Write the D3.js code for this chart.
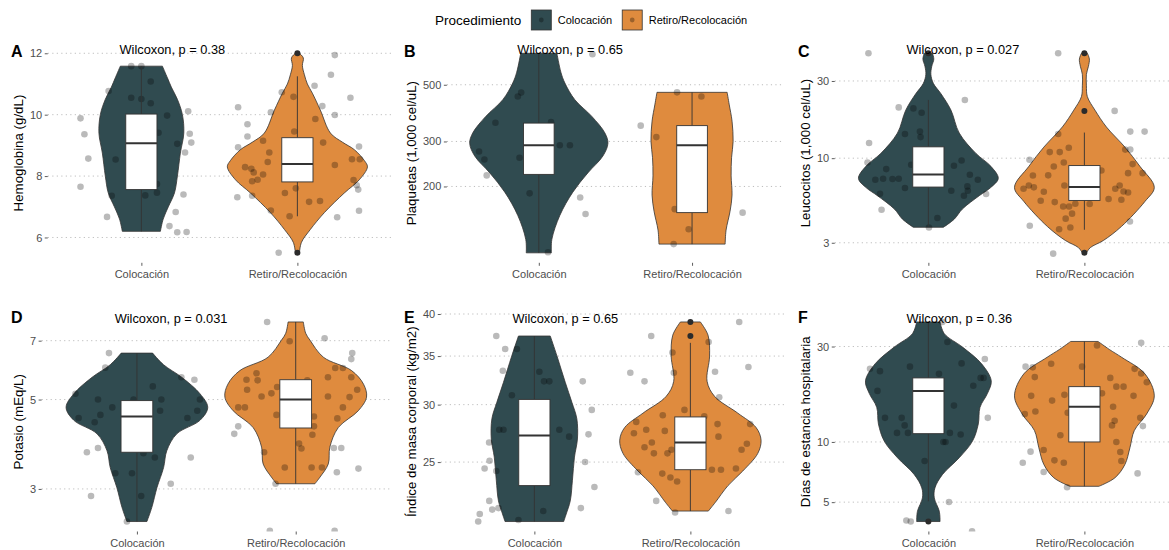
<!DOCTYPE html>
<html>
<head>
<meta charset="utf-8">
<script src="https://cdn.jsdelivr.net/npm/d3@7/dist/d3.min.js"></script>
<style>
  body { margin: 0; background: #fff; }
  text { font-family: "Liberation Sans", Arial, sans-serif; }
</style>
</head>
<body>
<svg id="chart" width="1169" height="550"></svg>
<script>
var categories = ["Colocación", "Retiro/Recolocación"];
var fills = ["#304B50", "#DF8B3E"];
var legendTitle = "Procedimiento";

// violin outlines: [value, half width in category units], boxes: [lower, q1, median, q3, upper]
// points: [horizontal jitter in category units, value]

// A - hemoglobina
var hbViolin = [
  [[11.58,.135],[11.2,.167],[10.9,.192],[10.5,.231],[10.0,.263],[9.4,.272],[8.75,.25],[8.0,.231],[7.45,.212],[7.0,.173],[6.6,.14],[6.2,.122]],
  [[12.0,.013],[11.85,.038],[11.6,.032],[11.3,.045],[11.0,.064],[10.7,.096],[10.15,.147],[9.4,.212],[9.1,.29],[8.86,.365],[8.5,.43],[8.3,.449],[7.88,.397],[7.45,.301],[6.81,.173],[6.26,.083],[5.84,.026],[5.5,.013]]
];
var hbBox = [[6.2,7.56,9.07,10.02,11.58],[6.69,7.81,8.39,9.25,11.25]];
var hbOutliers = [[],[12.0,5.5]];
var hbPoints = [
  [[-0.39,9.88],[-0.365,9.36],[-0.34,8.57],[-0.39,7.65],[-0.21,10.77],[-0.22,6.67],[-0.19,7.36],[-0.165,8.54],[-0.065,11.58],[0,11.58],[-0.065,10.55],[0,10.51],[0.06,11.08],[0.06,10.37],[0.165,9.97],[0.23,9.05],[0.30,10.11],[0.31,9.38],[0.32,9.09],[0.28,8.77],[0.27,7.40],[0.22,6.83],[0.18,6.37],[0.23,6.17],[0.29,6.18],[0.025,7.37],[0.10,7.46],[0.10,7.74],[0.11,9.41]],
  [[-0.38,10.24],[-0.32,9.69],[-0.32,9.29],[-0.38,8.94],[-0.385,7.31],[-0.335,8.29],[-0.295,8.24],[-0.29,7.83],[-0.255,7.88],[-0.22,8.05],[-0.28,8.12],[-0.19,8.46],[-0.18,8.77],[-0.22,9.15],[-0.29,7.36],[-0.17,10.08],[-0.17,6.88],[-0.10,10.73],[-0.025,10.58],[-0.08,7.45],[-0.05,6.69],[-0.01,7.60],[-0.02,9.45],[-0.12,5.50],[0.075,7.16],[0.145,7.19],[0.165,9.09],[0.16,10.28],[0.11,10.94],[0.115,9.86],[0.215,11.30],[0.24,11.94],[0.24,9.99],[0.24,8.36],[0.34,10.55],[0.395,8.96],[0.40,8.55],[0.35,8.55],[0.36,7.87],[0.38,7.70],[0.39,7.56],[0.395,6.87],[0.255,6.66]]
];
var hbTicks = [6, 8, 10, 12];

// B - plaquetas
var pltViolin = [
  [[664,.118],[560,.144],[508,.17],[437,.235],[376,.346],[324,.431],[295,.451],[263,.418],[226,.32],[190,.222],[154,.137],[124,.085],[110,.082]],
  [[467,.229],[420,.242],[360,.261],[300,.268],[260,.258],[220,.255],[185,.261],[160,.248],[135,.222],[119,.216]]
];
var pltBox = [[110,223,290,354,664],[119,158,290,346,467]];
var pltOutliers = [[],[]];
var pltPoints = [
  [[0.06,110.6],[0.35,658],[-0.137,450],[-0.115,466],[-0.283,355],[-0.39,274],[-0.355,255],[-0.34,221],[-0.126,259],[-0.06,188],[0.08,357],[0.137,290],[0.203,290],[0.27,181],[0.305,156]],
  [[-0.335,346],[-0.233,312],[-0.098,467],[0.061,450],[-0.113,163],[-0.022,136],[-0.12,119],[0.33,158]]
];
var pltTicks = [200, 300, 500];

// C - leucocitos
var leuViolin = [
  [[44.5,.026],[41,.035],[37,.022],[33,.016],[29,.032],[25,.081],[19.8,.145],[14.3,.198],[10.7,.305],[8.9,.401],[7.5,.448],[6.6,.401],[5.86,.326],[4.85,.218],[4.2,.166],[3.74,.096]],
  [[44.5,.019],[41,.032],[37,.026],[33,.013],[28,.013],[24,.019],[19.8,.068],[15.6,.141],[11.7,.26],[8.9,.356],[6.6,.448],[5.4,.388],[3.78,.237],[3.1,.122],[2.8,.038],[2.6,.013]]
];
var leuBox = [[3.78,6.63,7.93,11.75,22.9],[3.61,5.48,6.63,9.0,14.4]];
var leuOutliers = [[44.5],[44.5,19.6,2.6]];
var leuPoints = [
  [[-0.384,44.5],[-0.38,12.4],[-0.39,9.4],[-0.19,20.6],[-0.15,14.1],[-0.096,20.3],[-0.043,19.1],[-0.054,14.6],[-0.05,13.5],[-0.11,9.1],[-0.27,8.56],[-0.34,7.35],[-0.29,7.46],[-0.23,7.43],[-0.19,7.46],[-0.15,6.54],[-0.31,6.03],[-0.30,4.8],[0.004,3.73],[0.058,4.27],[0.164,8.97],[0.213,9.67],[0.266,7.89],[0.317,7.35],[0.25,6.69],[0.253,6.29],[0.147,6.29],[0.228,5.86],[0.37,6.0],[0.234,22.9]],
  [[-0.168,44.5],[-0.168,14.1],[-0.222,10.9],[-0.352,9.77],[-0.33,7.81],[-0.39,6.47],[-0.356,6.78],[-0.324,6.6],[-0.232,7.83],[-0.196,8.88],[-0.158,10.9],[-0.132,9.4],[-0.1,11.6],[-0.128,6.78],[-0.26,6.2],[-0.28,5.45],[-0.19,5.35],[-0.136,5.03],[-0.098,5.03],[-0.058,5.23],[-0.079,4.54],[-0.12,4.23],[-0.09,3.73],[-0.162,3.64],[-0.35,3.82],[-0.2,2.57],[0.034,5.21],[0.155,5.59],[0.109,8.39],[0.194,19.6],[0.294,14.6],[0.386,14.6],[0.262,11.3],[0.294,11.3],[0.309,9.19],[0.373,8.08],[0.28,8.08],[0.226,6.78],[0.198,6.47],[0.251,6.22],[0.28,6.14],[0.237,5.53],[0.292,4.06]]
];
var leuTicks = [3, 10, 30];

// D - potasio
var kViolin = [
  [[6.52,.099],[6.1,.168],[5.68,.282],[5.17,.397],[4.78,.446],[4.44,.397],[4.11,.251],[3.73,.188],[3.39,.168],[3.02,.126],[2.70,.094],[2.49,.063]],
  [[7.79,.048],[7.3,.063],[7.02,.09],[6.37,.174],[5.9,.352],[5.46,.427],[5.07,.446],[4.69,.394],[4.26,.268],[3.81,.215],[3.46,.205],[3.21,.153],[3.09,.121]]
];
var kBox = [[2.49,3.70,4.54,4.97,6.52],[3.09,4.25,5.0,5.6,7.79]];
var kOutliers = [[],[]];
var kPoints = [
  [[-0.387,5.17],[-0.367,4.50],[-0.315,3.70],[-0.289,2.88],[-0.245,3.79],[-0.245,5.0],[-0.23,4.58],[-0.266,4.39],[-0.199,6.0],[-0.176,6.52],[-0.155,4.78],[-0.136,3.28],[-0.031,3.28],[-0.063,2.49],[-0.021,5.0],[0.027,2.88],[0.041,3.68],[0.1,5.39],[0.113,3.59],[0.146,4.69],[0.154,5.0],[0.213,3.09],[0.28,5.68],[0.318,4.50],[0.362,5.6],[0.339,3.59],[0.38,4.69],[0.397,5.0]],
  [[-0.18,7.79],[-0.038,6.98],[0.182,7.1],[0.356,6.52],[0.35,6.3],[0.297,5.99],[0.249,5.99],[0.203,5.68],[0.35,5.68],[0.387,5.29],[0.339,5.07],[0.203,5.09],[0.073,5.58],[-0.247,5.81],[-0.24,5.58],[-0.31,5.6],[-0.306,5.29],[-0.215,5.09],[-0.153,5.18],[-0.117,5.37],[-0.121,4.58],[-0.362,4.78],[-0.32,4.78],[-0.362,4.29],[-0.387,4.11],[-0.199,3.70],[-0.127,3.09],[-0.069,3.39],[0.021,3.89],[0.036,3.78],[0.077,4.89],[0.115,4.54],[0.115,4.29],[0.105,4.09],[0.165,3.39],[0.1,3.39],[0.297,4.78],[0.262,4.49],[0.24,3.79],[0.287,3.79],[0.259,3.30],[0.395,3.37],[-0.163,2.36],[0.245,2.36]]
];
var kTicks = [3, 5, 7];

// E - indice de masa corporal
var imcViolin = [
  [[37.3,.102],[35,.145],[32.2,.198],[30.2,.241],[28.7,.272],[26.9,.276],[25.4,.257],[23.6,.244],[22.1,.23],[21.2,.204],[20.7,.188]],
  [[39,.064],[37.4,.113],[35,.123],[32.3,.107],[30.8,.155],[29.2,.304],[27.9,.421],[26.8,.453],[25.7,.432],[24.3,.336],[23.2,.241],[22,.16],[21.4,.115]]
];
var imcBox = [[20.7,23.2,27.2,30.5,37.3],[21.4,24.4,26.6,28.85,36.5]];
var imcOutliers = [[],[39.0,37.3]];
var imcPoints = [
  [[-0.244,37.3],[-0.187,35.8],[-0.202,33.4],[-0.112,35.8],[-0.144,30.9],[-0.29,26.6],[-0.287,25.1],[-0.319,24.5],[-0.244,24.3],[-0.289,22.1],[-0.27,21.5],[-0.23,21.6],[-0.35,21.2],[-0.36,20.7],[-0.102,20.8],[-0.225,27.7],[-0.198,27.7],[0.032,33.3],[0.062,32.3],[0.096,32.3],[0.16,27.7],[0.223,27.1],[0.057,21.4],[0.31,32.3],[0.368,29.5],[0.347,27.3],[0.325,25.0],[0.385,23.1],[0.298,21.6]],
  [[-0.385,33.2],[-0.251,37.3],[-0.294,32.3],[-0.347,28.4],[-0.362,27.4],[-0.336,24.2],[-0.283,27.7],[-0.294,26.2],[-0.247,26.6],[-0.234,25.7],[-0.177,29.0],[-0.164,27.6],[-0.147,25.7],[-0.121,26.0],[-0.18,24.1],[-0.128,23.8],[-0.085,23.5],[-0.106,33.2],[-0.219,22.1],[-0.098,21.3],[-0.115,35.4],[-0.038,29.5],[0.117,36.6],[0.089,28.9],[0.158,33.3],[0.185,30.7],[0.174,28.2],[0.18,27.1],[0.138,24.4],[0.196,24.4],[0.292,24.5],[0.328,26.0],[0.362,26.5],[0.383,28.2],[0.372,33.8],[0.313,39.0],[0.244,21.4]]
];
var imcTicks = [25, 30, 35, 40];

// F - dias de estancia
var diasViolin = [
  [[39.8,.075],[34.8,.102],[29.8,.219],[24.6,.341],[20.2,.403],[17.5,.379],[14.9,.331],[12.3,.32],[10.1,.283],[8.34,.198],[6.88,.091],[5.89,.042],[5.25,.038],[4.5,.07],[4.0,.075]],
  [[31.8,.088],[29,.16],[26.5,.239],[21.9,.388],[17,.448],[13.8,.399],[11.4,.32],[9.36,.292],[7.72,.26],[6.62,.196],[6.0,.093]]
];
var diasBox = [[5.05,11.0,18.0,20.9,39.8],[6.0,10.0,15.0,18.9,31.8]];
var diasOutliers = [[4.0],[]];
var diasPoints = [
  [[0.09,39.8],[0.122,31.6],[-0.374,23.2],[-0.31,22.6],[-0.326,18.0],[-0.118,23.8],[0.068,21.9],[0.213,24.7],[0.335,20.9],[0.354,20.9],[0.288,19.1],[0.362,26.0],[0.164,15.2],[-0.278,13.2],[-0.171,13.2],[-0.152,12.1],[-0.131,11.1],[-0.201,11.1],[0.138,11.1],[0.207,10.9],[0.096,10.0],[0.11,10.0],[-0.024,8.03],[0.132,5.01],[-0.141,4.05],[-0.113,4.0],[0.381,13.2],[0.28,3.57]],
  [[-0.377,23.8],[-0.331,23.6],[-0.318,21.1],[-0.213,24.6],[-0.015,23.8],[0.081,30.4],[0.166,20.9],[0.205,18.9],[0.251,18.9],[0.113,17.5],[0.315,17.0],[0.322,23.2],[0.364,22.0],[0.4,19.9],[0.358,13.2],[0.375,12.0],[0.364,31.3],[-0.341,17.0],[-0.207,16.1],[-0.128,17.2],[-0.314,14.2],[-0.382,13.8],[-0.107,14.0],[0.184,15.0],[0.194,12.75],[0.177,12.1],[-0.154,10.8],[0.205,10.0],[-0.261,9.12],[-0.345,8.94],[-0.395,7.87],[-0.192,8.09],[-0.132,7.87],[0.23,8.9],[0.237,8.03],[-0.261,7.07],[0.341,6.96],[-0.111,5.94]]
];
var diasTicks = [5, 10, 30];

var panels = [
  {tag: "A", title: "Hemoglobina (g/dL)", p: "Wilcoxon, p = 0.38", log: false, violin: hbViolin, box: hbBox, out: hbOutliers, pts: hbPoints, ticks: hbTicks},
  {tag: "B", title: "Plaquetas (1,000 cel/uL)", p: "Wilcoxon, p = 0.65", log: true, violin: pltViolin, box: pltBox, out: pltOutliers, pts: pltPoints, ticks: pltTicks},
  {tag: "C", title: "Leucocitos (1,000 cel/uL)", p: "Wilcoxon, p = 0.027", log: true, violin: leuViolin, box: leuBox, out: leuOutliers, pts: leuPoints, ticks: leuTicks},
  {tag: "D", title: "Potasio (mEq/L)", p: "Wilcoxon, p = 0.031", log: true, violin: kViolin, box: kBox, out: kOutliers, pts: kPoints, ticks: kTicks},
  {tag: "E", title: "Índice de masa corporal (kg/m2)", p: "Wilcoxon, p = 0.65", log: true, violin: imcViolin, box: imcBox, out: imcOutliers, pts: imcPoints, ticks: imcTicks},
  {tag: "F", title: "Días de estancia hospitalaria", p: "Wilcoxon, p = 0.36", log: true, violin: diasViolin, box: diasBox, out: diasOutliers, pts: diasPoints, ticks: diasTicks}
];

var svg = d3.select("#chart");
var colX = [0, 393, 787], colW = 391;
var rowTop = [43.3, 312], plotH = 219.5, tagY = [57, 323];

// legend
var leg = svg.append("g");
var lx = 435, ly = 20;
var lt = leg.append("text").attr("x", lx).attr("y", ly).attr("dy", "0.35em")
  .style("font-size", "13.5px").text(legendTitle);
var kx = lx + lt.node().getComputedTextLength() + 10;
categories.forEach(function(c, i) {
  leg.append("rect").attr("x", kx).attr("y", ly - 10).attr("width", 20).attr("height", 20)
    .attr("fill", fills[i]).attr("stroke", "#333").attr("stroke-width", 0.8);
  leg.append("circle").attr("cx", kx + 10).attr("cy", ly).attr("r", 2.4)
    .attr("fill", "black").attr("fill-opacity", 0.3);
  var t = leg.append("text").attr("x", kx + 26.5).attr("y", ly).attr("dy", "0.35em")
    .style("font-size", "11px").text(c);
  kx += 26.5 + t.node().getComputedTextLength() + 10;
});

panels.forEach(function(p, i) {
  var col = i % 3, row = Math.floor(i / 3);
  var x0 = colX[col], top = rowTop[row], bottom = top + plotH, right = x0 + colW;

  var vals = [];
  p.violin.forEach(function(v) { v.forEach(function(d) { vals.push(d[0]); }); });
  var ext = d3.extent(vals);
  var y;
  if (p.log) {
    var l0 = Math.log(ext[0]), l1 = Math.log(ext[1]), pad = (l1 - l0) * 0.05;
    y = d3.scaleLog().domain([Math.exp(l0 - pad), Math.exp(l1 + pad)]).range([bottom, top]);
  } else {
    var pd = (ext[1] - ext[0]) * 0.05;
    y = d3.scaleLinear().domain([ext[0] - pd, ext[1] + pd]).range([bottom, top]);
  }

  var g = svg.append("g");

  // y axis first, so its width sets the panel's left edge
  var yAxisG = g.append("g")
    .call(d3.axisLeft(y).tickValues(p.ticks).tickSize(3).tickPadding(2.5).tickFormat(d3.format("d")));
  yAxisG.select(".domain").remove();
  yAxisG.selectAll("line").attr("stroke", "#333").attr("stroke-width", 0.8);
  yAxisG.selectAll("text").attr("fill", "#4d4d4d").style("font-size", "11px")
    .style("font-family", "'Liberation Sans', Arial, sans-serif");
  var left = x0 + 30 + yAxisG.node().getBBox().width;
  yAxisG.attr("transform", "translate(" + left + ",0)");

  var x = d3.scaleLinear().domain([0.4, 2.6]).range([left, right]);

  // grid
  g.insert("g", ":first-child").selectAll("line").data(p.ticks).enter().append("line")
    .attr("x1", left).attr("x2", right)
    .attr("y1", function(d) { return y(d); }).attr("y2", function(d) { return y(d); })
    .attr("stroke", "#bdbdbd").attr("stroke-width", 1).attr("stroke-dasharray", "1.2,3.3");

  // x axis
  var xAxisG = g.append("g").attr("transform", "translate(0," + bottom + ")")
    .call(d3.axisBottom(x).tickValues([1, 2]).tickSize(3).tickPadding(4.5)
      .tickFormat(function(d) { return categories[d - 1]; }));
  xAxisG.select(".domain").remove();
  xAxisG.selectAll("line").attr("stroke", "#333").attr("stroke-width", 0.8);
  xAxisG.selectAll("text").attr("fill", "#4d4d4d").style("font-size", "11px")
    .style("font-family", "'Liberation Sans', Arial, sans-serif");

  var clipId = "clip" + i;
  g.append("clipPath").attr("id", clipId).append("rect")
    .attr("x", left).attr("y", top).attr("width", right - left).attr("height", plotH);
  var pg = g.append("g").attr("clip-path", "url(#" + clipId + ")");

  [0, 1].forEach(function(k) {
    var c = k + 1;
    var area = d3.area().curve(d3.curveCatmullRom)
      .y(function(d) { return y(d[0]); })
      .x0(function(d) { return x(c - d[1]); })
      .x1(function(d) { return x(c + d[1]); });
    pg.append("path").datum(p.violin[k]).attr("d", area)
      .attr("fill", fills[k]).attr("stroke", "#333").attr("stroke-width", 0.8);
  });

  [0, 1].forEach(function(k) {
    var c = k + 1;
    pg.append("g").selectAll("circle").data(p.pts[k]).enter().append("circle")
      .attr("cx", function(d) { return x(c + d[0]); })
      .attr("cy", function(d) { return y(d[1]); })
      .attr("r", 3.3).attr("fill", "black").attr("fill-opacity", 0.27);
  });

  [0, 1].forEach(function(k) {
    var c = k + 1, b = p.box[k];
    var bg = pg.append("g").attr("stroke", "#333");
    bg.append("line").attr("x1", x(c)).attr("x2", x(c)).attr("y1", y(b[0])).attr("y2", y(b[1])).attr("stroke-width", 0.9);
    bg.append("line").attr("x1", x(c)).attr("x2", x(c)).attr("y1", y(b[3])).attr("y2", y(b[4])).attr("stroke-width", 0.9);
    bg.append("rect").attr("x", x(c - 0.1)).attr("width", x(c + 0.1) - x(c - 0.1))
      .attr("y", y(b[3])).attr("height", y(b[1]) - y(b[3]))
      .attr("fill", "white").attr("stroke-width", 0.9);
    bg.append("line").attr("x1", x(c - 0.1)).attr("x2", x(c + 0.1))
      .attr("y1", y(b[2])).attr("y2", y(b[2])).attr("stroke-width", 2);
    bg.selectAll("circle").data(p.out[k]).enter().append("circle")
      .attr("cx", x(c)).attr("cy", function(d) { return y(d); })
      .attr("r", 3).attr("fill", "#2b2b2b").attr("stroke", "none");
  });

  // test label
  g.append("text").attr("x", x(0.86)).attr("y", y(ext[1]) + 1)
    .style("font-size", "12.8px").attr("fill", "black").text(p.p);

  // axis title
  g.append("text").attr("transform", "translate(" + (x0 + 18) + "," + (top + plotH / 2) + ") rotate(-90)")
    .attr("text-anchor", "middle").attr("dy", "0.35em")
    .style("font-size", "13.3px").attr("fill", "black").text(p.title);

  // tag
  g.append("text").attr("x", x0 + 11).attr("y", tagY[row])
    .style("font-size", "16px").style("font-weight", "bold").attr("fill", "black").text(p.tag);
});
</script>
</body>
</html>
